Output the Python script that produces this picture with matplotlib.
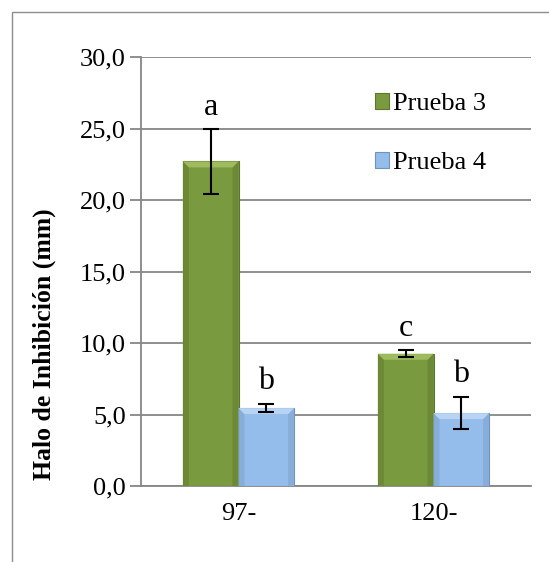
import matplotlib
matplotlib.use("Agg")
import matplotlib.pyplot as plt
import numpy as np
from matplotlib.patches import Rectangle, Polygon
from matplotlib.transforms import IdentityTransform

categories = ["97-", "120-"]
series_names = ["Prueba 3", "Prueba 4"]
prueba3 = [22.7, 9.25]
prueba4 = [5.45, 5.1]
err3 = [2.3, 0.25]
err4 = [0.27, 1.13]
letters3 = ["a", "c"]
letters4 = ["b", "b"]
yticks = [0, 5, 10, 15, 20, 25, 30]

plt.rcParams['font.family'] = ['Liberation Serif', 'DejaVu Serif']

W, H = 549, 562
fig = plt.figure(figsize=(W/100, H/100), dpi=100)
fig.patches.append(Rectangle((11.5/W, -0.1), 1.2, 1.1 - 11.5/H, transform=fig.transFigure,
                             fill=False, edgecolor='#8c8c8c', linewidth=1.0))
ax = fig.add_axes([141/W, (H-486)/H, (531-141)/W, (486-57)/H])

x = np.arange(len(categories))
bw = 0.285
green = '#7A9A3F'
blue = '#95BDEB'
bars3 = ax.bar(x - bw/2, prueba3, bw, color=green, edgecolor='#5e7530', linewidth=0.8,
               label=series_names[0], zorder=3)
bars4 = ax.bar(x + bw/2, prueba4, bw, color=blue, edgecolor='#6f93bd', linewidth=0.8,
               label=series_names[1], zorder=3)

ax.set_xlim(-0.5, 1.5)
ax.set_ylim(0, 30)

# bevel effect on bars
def bevel(bars, light, dark):
    for b in bars:
        (x0, y0), (x1, y1) = ax.transData.transform([(b.get_x(), 0), (b.get_x() + b.get_width(), b.get_height())])
        d = 6
        top = [(x0, y1), (x1, y1), (x1 - d, y1 - d), (x0 + d, y1 - d)]
        left = [(x0, y0), (x0, y1), (x0 + d, y1 - d), (x0 + d, y0)]
        right = [(x1, y0), (x1, y1), (x1 - d, y1 - d), (x1 - d, y0)]
        for pts, c in [(left, dark), (right, dark), (top, light)]:
            p = Polygon(pts, closed=True, transform=IdentityTransform(),
                        facecolor=c, edgecolor='none', zorder=3.5, alpha=0.9)
            p.set_clip_on(False)
            ax.add_artist(p)

fig.canvas.draw()
bevel(bars3, '#A3C063', '#6C8836')
bevel(bars4, '#BCD7F6', '#86ACD8')

ax.errorbar(x - bw/2, prueba3, yerr=err3, fmt='none', ecolor='black', elinewidth=1.5,
            capsize=6, capthick=1.5, zorder=4)
ax.errorbar(x + bw/2, prueba4, yerr=err4, fmt='none', ecolor='black', elinewidth=1.5,
            capsize=6, capthick=1.5, zorder=4)

for xi, v, e, t in zip(x - bw/2, prueba3, err3, letters3):
    ax.text(xi, v + e + 1.5, t, ha='center', va='center', fontsize=23)
for xi, v, e, t in zip(x + bw/2, prueba4, err4, letters4):
    ax.text(xi, v + e + 1.6, t, ha='center', va='center', fontsize=23)

ax.set_yticks(yticks)
ax.set_yticklabels([f"{v:.1f}".replace('.', ',') for v in yticks], fontsize=19)
ax.set_xticks(x)
ax.set_xticklabels(categories, fontsize=19)
ax.tick_params(axis='x', length=0, pad=12)
ax.tick_params(axis='y', length=8, width=1.3, color='#868686', pad=3)
ax.yaxis.grid(True, color='#868686', linewidth=1.3, zorder=0)
ax.set_axisbelow(True)
for s in ['top', 'right']:
    ax.spines[s].set_visible(False)
for s in ['left', 'bottom']:
    ax.spines[s].set_color('#868686')
    ax.spines[s].set_linewidth(1.3)
ax.set_ylabel("Halo de Inhibición (mm)", fontsize=18.5, fontweight='bold')
ax.yaxis.set_label_coords((56-141)/390, (486-344)/429)

leg = ax.legend(loc='upper left', bbox_to_anchor=((375-141)/390, (486-93)/429), frameon=False,
                fontsize=19, handlelength=0.53, handleheight=0.53, handletextpad=0.15,
                labelspacing=1.4, borderpad=0, borderaxespad=0)

fig.savefig("out.png", dpi=100)
